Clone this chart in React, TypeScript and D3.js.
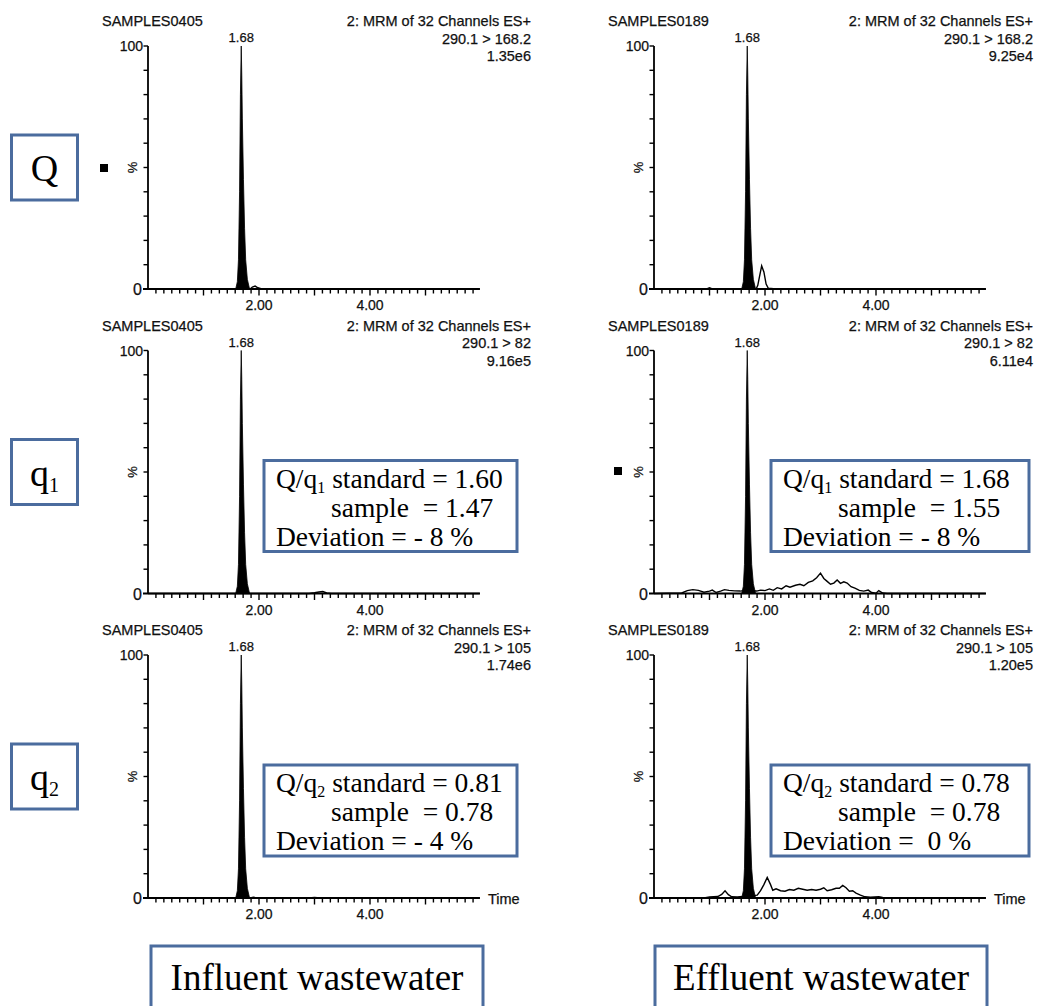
import React from 'react';
import * as d3 from 'd3';

const W = 1040;
const H = 1006;

const sampleNames = ['SAMPLES0405', 'SAMPLES0189'];
const channelTitle = '2: MRM of 32 Channels ES+';
const transitions = ['290.1 > 168.2', '290.1 > 82', '290.1 > 105'];
const intensities = [
  ['1.35e6', '9.25e4'],
  ['9.16e5', '6.11e4'],
  ['1.74e6', '1.20e5'],
];
const ionLabels = ['Q', 'q', 'q'];
const ionSubs = ['', '1', '2'];
const peakLabel = '1.68';
const xTickLabels = [2, 4];

// retention-time peak, [min, %]
const peak: [number, number][] = [
  [1.58, 0], [1.61, 3], [1.63, 12], [1.65, 40], [1.665, 80], [1.68, 100],
  [1.69, 88], [1.7, 70], [1.72, 45], [1.74, 25], [1.76, 12], [1.79, 4], [1.83, 0],
];

// baseline traces, [min, %] — row by row, influent then effluent
const noiseQIn: [number, number][] = [
  [0, 0], [1.84, 0], [1.88, 0.8], [1.93, 1.2], [1.98, 0.5], [2.05, 0], [5.98, 0],
];
const noiseQEff: [number, number][] = [
  [0, 0], [0.95, 0], [1.0, 0.5], [1.05, 0], [1.84, 0], [1.87, 1.5], [1.9, 5], [1.94, 9.5],
  [1.98, 7], [2.02, 2], [2.06, 0.3], [2.2, 0], [5.98, 0],
];
const noiseQ1In: [number, number][] = [
  [0, 0], [2.9, 0], [3.0, 0.3], [3.08, 0.6], [3.15, 0.8], [3.22, 0.2], [3.3, 0], [5.98, 0],
];
const noiseQ1Eff: [number, number][] = [
  [0, 0], [0.5, 0.2], [0.6, 1.2], [0.7, 1.6], [0.8, 1.3], [0.9, 0.5], [1.0, 1.0], [1.05, 1.4],
  [1.12, 0.4], [1.2, 1.0], [1.27, 1.6], [1.35, 1.3], [1.45, 1.1], [1.55, 1.0], [1.62, 1.2],
  [1.85, 1.0], [1.92, 1.4], [2.0, 1.2], [2.08, 1.9], [2.15, 1.3], [2.22, 2.4], [2.3, 1.9],
  [2.38, 3.2], [2.45, 2.6], [2.55, 3.4], [2.63, 3.8], [2.7, 3.2], [2.78, 4.6], [2.86, 5.2],
  [2.93, 6.5], [3.0, 8.4], [3.06, 6.2], [3.12, 5.0], [3.18, 3.8], [3.24, 4.3], [3.3, 5.6],
  [3.36, 4.2], [3.42, 4.8], [3.48, 4.3], [3.55, 2.8], [3.62, 2.2], [3.7, 1.3], [3.78, 1.0],
  [3.86, 1.4], [3.92, 0.4], [4.0, 0.1], [4.05, 1.2], [4.12, 0.2], [4.2, 0], [5.98, 0],
];
const noiseQ2In: [number, number][] = [
  [0, 0], [1.84, 0], [1.9, 0.3], [1.96, 0], [2.9, 0], [3.0, 0.2], [3.1, 0], [5.98, 0],
];
const noiseQ2Eff: [number, number][] = [
  [0, 0], [0.9, 0], [1.0, 0.4], [1.15, 0.6], [1.22, 1.5], [1.28, 3.0], [1.34, 1.4], [1.4, 0.5],
  [1.5, 0.4], [1.6, 0.6], [1.86, 1.2], [1.92, 3.0], [1.98, 5.5], [2.04, 8.5], [2.1, 5.5],
  [2.14, 3.2], [2.2, 3.8], [2.28, 3.0], [2.36, 2.8], [2.44, 3.5], [2.52, 3.2], [2.6, 4.0],
  [2.68, 3.6], [2.76, 3.2], [2.84, 3.5], [2.92, 3.2], [3.0, 3.6], [3.06, 4.2], [3.12, 3.0],
  [3.2, 3.4], [3.28, 4.0], [3.34, 4.0], [3.4, 5.2], [3.46, 4.2], [3.52, 2.8], [3.58, 3.0],
  [3.64, 2.0], [3.72, 1.2], [3.8, 0.5], [3.9, 0.3], [4.05, 0.5], [4.12, 0.2], [4.2, 0], [5.98, 0],
];
const traces = [
  [noiseQIn, noiseQEff],
  [noiseQ1In, noiseQ1Eff],
  [noiseQ2In, noiseQ2Eff],
];

// ion ratio boxes: [row][col]
const ratioStandard = [['1.60', '1.68'], ['0.81', '0.78']];
const ratioSample = [['1.47', '1.55'], ['0.78', '0.78']];
const ratioDeviation = [['- 8 %', '- 8 %'], ['- 4 %', ' 0 %']];
const columnTitles = ['Influent wastewater', 'Effluent wastewater'];

const colX0 = [148, 654];
const rowBase = [289, 593.5, 898];
const plotH = 243;
const pxPerMin = 55.5;
const tMax = 5.98;
const boxBlue = '#4b6c9e';
const sans = '"Liberation Sans", Arial, sans-serif';
const serif = '"Liberation Serif", "Times New Roman", serif';
const ink = { fill: '#111', stroke: '#111', strokeWidth: 0.25 };

const Panel = ({ row, col }: { row: number; col: number }) => {
  const x0 = colX0[col];
  const base = rowBase[row];
  const x = d3.scaleLinear().domain([0, tMax]).range([x0, x0 + tMax * pxPerMin]);
  const y = d3.scaleLinear().domain([0, 100]).range([base, base - plotH]);
  const line = d3.line<[number, number]>().x(d => x(d[0])).y(d => y(d[1]));
  const area = d3.area<[number, number]>().x(d => x(d[0])).y0(base).y1(d => y(d[1]));
  const minor = d3.range(1, 42).map(i => i / 7).filter(t => t < tMax);
  const headRight = col === 0 ? 531 : 1033;

  return (
    <g>
      <g fontFamily={sans} fontSize={14.5} {...ink}>
        <text x={x0 - 46} y={base - 263}>{sampleNames[col]}</text>
        <g textAnchor="end">
          <text x={headRight} y={base - 263}>{channelTitle}</text>
          <text x={headRight} y={base - 245.5}>{transitions[row]}</text>
          <text x={headRight} y={base - 228}>{intensities[row][col]}</text>
        </g>
      </g>

      <path d={line(traces[row][col]) || ''} fill="none" stroke="#000" strokeWidth={1.4} />
      <path d={area(peak) || ''} fill="#000" stroke="#000" strokeWidth={0.8} />
      <text x={x(1.68)} y={y(100) - 4} textAnchor="middle" fontFamily={sans} fontSize={13} {...ink}>{peakLabel}</text>

      <line x1={x0} x2={x0} y1={y(100)} y2={base} stroke="#000" strokeWidth={1.8} />
      {d3.range(10, 101, 10).map(v => (
        <line key={v} x1={x0 - 4.5} x2={x0} y1={y(v)} y2={y(v)} stroke="#000" strokeWidth={1.4} />
      ))}
      <g fontFamily={sans} textAnchor="end" {...ink}>
        <text x={x0 - 5} y={y(100) + 5} fontSize={14}>100</text>
        <text x={x0 - 6} y={base + 6} fontSize={16}>0</text>
      </g>
      <text transform={`translate(${x0 - 11},${y(50)}) rotate(-90)`} textAnchor="middle" fontFamily={sans} fontSize={13} {...ink}>%</text>

      <line x1={x0 - 5} x2={x(tMax)} y1={base} y2={base} stroke="#000" strokeWidth={1.8} />
      {minor.map((t, i) => {
        const whole = Math.abs(t - Math.round(t)) < 1e-6;
        return <line key={i} x1={x(t)} x2={x(t)} y1={base} y2={base + (whole ? 6.5 : 4.5)} stroke="#000" strokeWidth={1.4} />;
      })}
      {xTickLabels.map(t => (
        <text key={t} x={x(t)} y={base + 21} textAnchor="middle" fontFamily={sans} fontSize={14} {...ink}>{t.toFixed(2)}</text>
      ))}
      {row === 2 && (
        <text x={x(tMax) + 8} y={base + 6} fontFamily={sans} fontSize={14.5} {...ink}>Time</text>
      )}
    </g>
  );
};

const RatioBox = ({ row, col }: { row: number; col: number }) => {
  const bx = col === 0 ? 264 : 771;
  const by = rowBase[row + 1] - 133;
  const bw = col === 0 ? 253 : 258;
  return (
    <g fontFamily={serif} fontSize={27.5} fill="#000">
      <rect x={bx} y={by} width={bw} height={91} fill="#fff" stroke={boxBlue} strokeWidth={3} />
      <text x={bx + 12} y={by + 27}>
        Q/q<tspan fontSize={16} dy={5}>{row + 1}</tspan>
        <tspan dy={-5}> standard = {ratioStandard[row][col]}</tspan>
      </text>
      <text x={bx + 67} y={by + 56} style={{ whiteSpace: 'pre' }}>{`sample  = ${ratioSample[row][col]}`}</text>
      <text x={bx + 12} y={by + 85} style={{ whiteSpace: 'pre' }}>{`Deviation = ${ratioDeviation[row][col]}`}</text>
    </g>
  );
};

const App = () => {
  return (
    <svg width={W} height={H} style={{ position: 'absolute', left: 0, top: 0, background: '#fff' }}>
      {rowBase.map((_, r) => [0, 1].map(c => <Panel key={`${r}-${c}`} row={r} col={c} />))}
      {[0, 1].map(r => [0, 1].map(c => <RatioBox key={`b${r}-${c}`} row={r} col={c} />))}

      {ionLabels.map((lab, i) => (
        <g key={i}>
          <rect x={11.5} y={rowBase[i] - 154} width={66} height={65} fill="#fff" stroke={boxBlue} strokeWidth={3} />
          <text x={44.5} y={rowBase[i] - 108} textAnchor="middle" fontFamily={serif} fontSize={38}>
            {lab}
            {ionSubs[i] && <tspan fontSize={20} dy={6}>{ionSubs[i]}</tspan>}
          </text>
        </g>
      ))}
      <rect x={100} y={164} width={8} height={8} fill="#000" />
      <rect x={614} y={467} width={8} height={8} fill="#000" />

      {columnTitles.map((t, i) => (
        <g key={t}>
          <rect x={i === 0 ? 151 : 655} y={946} width={332} height={75} fill="#fff" stroke={boxBlue} strokeWidth={3} />
          <text x={i === 0 ? 317 : 821} y={990} textAnchor="middle" fontFamily={serif} fontSize={37}>{t}</text>
        </g>
      ))}
    </svg>
  );
};

export default App;
